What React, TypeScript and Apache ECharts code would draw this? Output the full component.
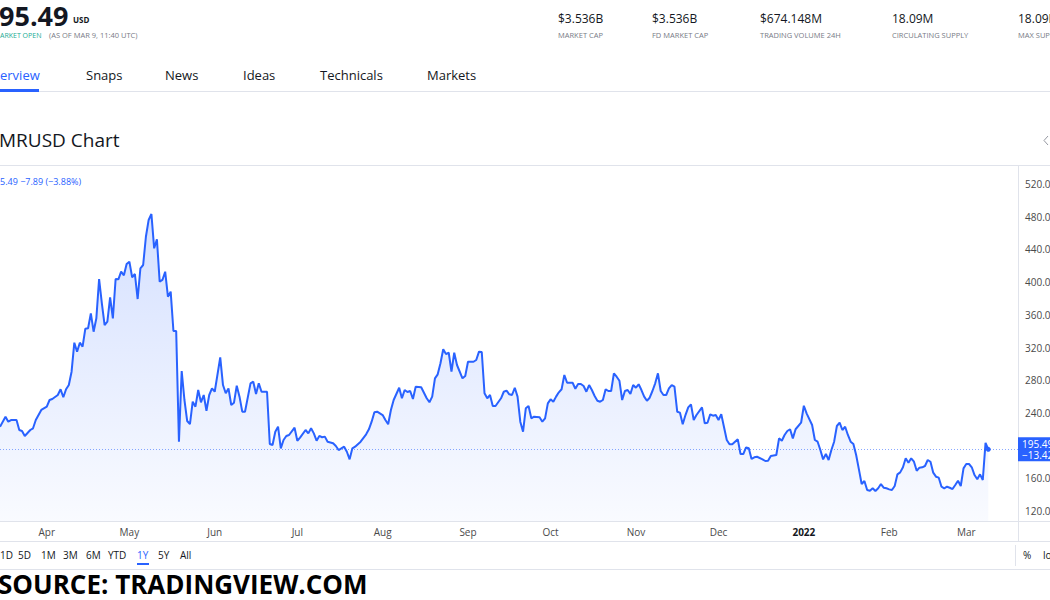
import React, { useEffect, useRef } from "react";
import * as echarts from "echarts";

// ---------- data ----------
const dates: string[] = [
  "2021-03-15","2021-03-17","2021-03-18","2021-03-19","2021-03-21","2021-03-22","2021-03-23","2021-03-24","2021-03-26","2021-03-27","2021-03-28","2021-03-30",
  "2021-04-01","2021-04-02","2021-04-03","2021-04-05","2021-04-06","2021-04-07","2021-04-08","2021-04-09","2021-04-10","2021-04-11","2021-04-12","2021-04-13","2021-04-14","2021-04-15","2021-04-16","2021-04-17","2021-04-18","2021-04-19","2021-04-20","2021-04-21","2021-04-22","2021-04-23","2021-04-24","2021-04-25","2021-04-26","2021-04-27","2021-04-28","2021-04-29","2021-04-30",
  "2021-05-01","2021-05-02","2021-05-03","2021-05-04","2021-05-05","2021-05-06","2021-05-07","2021-05-08","2021-05-09","2021-05-10","2021-05-11","2021-05-12","2021-05-13","2021-05-14","2021-05-15","2021-05-16","2021-05-17","2021-05-18","2021-05-19","2021-05-20","2021-05-21","2021-05-22","2021-05-23","2021-05-24","2021-05-25","2021-05-26","2021-05-27","2021-05-28","2021-05-29","2021-05-30","2021-05-31",
  "2021-06-01","2021-06-03","2021-06-04","2021-06-05","2021-06-06","2021-06-07","2021-06-08","2021-06-09","2021-06-10","2021-06-11","2021-06-12","2021-06-14","2021-06-15","2021-06-16","2021-06-17","2021-06-18","2021-06-20","2021-06-21","2021-06-22","2021-06-23","2021-06-24","2021-06-25","2021-06-26","2021-06-27","2021-06-28","2021-06-30",
  "2021-07-01","2021-07-02","2021-07-04","2021-07-05","2021-07-06","2021-07-07","2021-07-08","2021-07-09","2021-07-10","2021-07-11","2021-07-12","2021-07-14","2021-07-15","2021-07-16","2021-07-18","2021-07-19","2021-07-20","2021-07-21","2021-07-22","2021-07-24","2021-07-26","2021-07-27","2021-07-28","2021-07-29","2021-07-30",
  "2021-08-01","2021-08-02","2021-08-03","2021-08-04","2021-08-05","2021-08-07","2021-08-08","2021-08-09","2021-08-10","2021-08-11","2021-08-12","2021-08-13","2021-08-15","2021-08-17","2021-08-18","2021-08-19","2021-08-20","2021-08-21","2021-08-22","2021-08-23","2021-08-24","2021-08-25","2021-08-26","2021-08-27","2021-08-28","2021-08-30","2021-08-31",
  "2021-09-01","2021-09-03","2021-09-04","2021-09-05","2021-09-06","2021-09-07","2021-09-08","2021-09-09","2021-09-10","2021-09-11","2021-09-13","2021-09-14","2021-09-15","2021-09-16","2021-09-17","2021-09-18","2021-09-19","2021-09-20","2021-09-21","2021-09-22","2021-09-23","2021-09-24","2021-09-25","2021-09-27","2021-09-28","2021-09-29","2021-09-30",
  "2021-10-01","2021-10-02","2021-10-03","2021-10-04","2021-10-05","2021-10-06","2021-10-07","2021-10-09","2021-10-10","2021-10-11","2021-10-12","2021-10-13","2021-10-14","2021-10-15","2021-10-16","2021-10-17","2021-10-18","2021-10-19","2021-10-20","2021-10-21","2021-10-22","2021-10-23","2021-10-24","2021-10-25","2021-10-26","2021-10-27","2021-10-28","2021-10-29","2021-10-30","2021-10-31",
  "2021-11-01","2021-11-02","2021-11-03","2021-11-04","2021-11-05","2021-11-06","2021-11-07","2021-11-08","2021-11-09","2021-11-10","2021-11-11","2021-11-12","2021-11-13","2021-11-14","2021-11-15","2021-11-16","2021-11-17","2021-11-18","2021-11-19","2021-11-20","2021-11-21","2021-11-22","2021-11-23","2021-11-25","2021-11-26","2021-11-27","2021-11-28","2021-11-29","2021-11-30",
  "2021-12-01","2021-12-02","2021-12-04","2021-12-05","2021-12-06","2021-12-08","2021-12-09","2021-12-10","2021-12-11","2021-12-12","2021-12-13","2021-12-14","2021-12-15","2021-12-17","2021-12-18","2021-12-19","2021-12-20","2021-12-22","2021-12-23","2021-12-24","2021-12-25","2021-12-26","2021-12-27","2021-12-28","2021-12-29","2021-12-31",
  "2022-01-01","2022-01-02","2022-01-04","2022-01-05","2022-01-06","2022-01-07","2022-01-08","2022-01-09","2022-01-10","2022-01-11","2022-01-12","2022-01-13","2022-01-14","2022-01-15","2022-01-16","2022-01-17","2022-01-18","2022-01-19","2022-01-20","2022-01-21","2022-01-22","2022-01-23","2022-01-24","2022-01-25","2022-01-26","2022-01-27","2022-01-28","2022-01-29","2022-01-30","2022-01-31",
  "2022-02-01","2022-02-02","2022-02-03","2022-02-04","2022-02-05","2022-02-06","2022-02-07","2022-02-08","2022-02-09","2022-02-10","2022-02-11","2022-02-12","2022-02-13","2022-02-14","2022-02-15","2022-02-16","2022-02-17","2022-02-18","2022-02-19","2022-02-20","2022-02-21","2022-02-22","2022-02-23","2022-02-24","2022-02-25","2022-02-26","2022-02-27","2022-02-28",
  "2022-03-01","2022-03-02","2022-03-03","2022-03-04","2022-03-05","2022-03-06","2022-03-07","2022-03-08","2022-03-09",
];

const prices: number[] = [
  223.1,235.4,229.3,231.3,231.3,219.1,217.9,211.8,219.1,221.2,231.3,243.6,
  247.6,255.8,257.0,261.9,268.9,259.1,268.9,274.1,290.4,325.9,314.9,325.9,321.0,343.0,343.5,361.8,339.3,355.7,403.8,374.0,347.5,351.6,381.4,355.7,403.8,403.4,412.7,408.3,422.1,
  425.0,405.9,409.9,379.3,416.9,420.9,455.5,476.0,483.3,441.3,452.3,400.5,402.6,412.7,382.1,388.3,340.2,340.2,204.8,291.3,255.8,230.1,226.4,253.7,247.6,268.0,253.0,261.9,242.7,261.9,270.0,
  265.9,308.0,274.1,264.0,270.0,249.7,252.5,273.3,259.9,241.5,241.5,276.2,278.2,263.1,276.2,265.9,265.9,202.0,200.7,217.0,223.1,196.7,206.9,211.8,213.0,221.9,
  206.0,209.7,219.1,215.0,221.2,215.0,206.0,211.8,210.2,211.0,204.8,202.8,199.5,194.6,198.7,192.5,183.2,196.7,198.7,204.8,213.8,219.9,229.3,240.7,241.5,
  237.4,231.3,226.1,243.6,255.8,270.8,257.9,268.0,265.6,266.8,257.0,272.1,271.3,257.9,253.0,259.9,282.3,287.2,300.7,317.8,312.0,313.6,290.4,313.6,298.6,282.3,285.1,
  302.6,302.6,304.7,314.9,314.5,264.0,257.9,261.9,248.4,248.4,257.9,265.9,267.2,262.8,261.9,270.8,259.9,229.3,217.0,245.6,248.4,233.4,235.4,234.6,229.3,233.4,251.7,
  256.6,253.7,259.9,265.2,268.9,286.4,276.9,276.9,269.6,275.4,275.4,272.9,265.9,274.1,268.0,260.7,254.9,253.7,255.8,268.9,266.8,266.8,288.4,284.3,279.4,255.8,266.8,268.0,263.1,274.1,
  270.8,275.0,268.0,259.9,254.9,258.6,266.8,276.2,288.4,266.8,261.9,261.9,270.0,274.1,272.1,241.5,240.3,226.1,237.4,246.8,250.5,231.3,237.4,246.8,227.3,228.0,238.3,236.6,237.4,
  231.3,238.3,206.9,201.6,201.6,207.7,189.7,189.7,197.9,196.7,183.6,185.7,186.4,183.2,181.2,181.5,187.3,188.5,208.9,206.0,213.0,217.9,220.0,208.9,220.0,228.0,
  248.8,239.5,225.2,206.9,204.8,194.6,183.2,189.7,182.4,194.6,204.8,224.0,228.0,219.1,223.1,213.0,204.8,202.0,188.5,171.0,153.0,156.7,145.7,144.9,147.8,144.5,147.8,153.0,148.5,147.8,
  146.5,145.7,150.6,164.9,167.3,173.5,184.5,179.1,184.5,180.3,169.3,173.0,173.5,175.1,182.4,180.3,166.9,162.0,160.8,149.7,147.8,149.7,148.5,146.9,151.8,157.1,150.6,172.2,
  177.5,177.5,173.5,164.0,158.8,164.9,157.9,203.38,195.49,
];

// the 200.00 tick is hidden behind the last-price label in the reference
const yTicks = [120, 160, 240, 280, 320, 360, 400, 440, 480, 520];
const xTickDates = ["2021-04-01","2021-05-01","2021-06-01","2021-07-01","2021-08-01","2021-09-01","2021-10-01","2021-11-01","2021-12-01","2022-01-01","2022-02-01","2022-03-01"];
const xTickLabels = ["Apr","May","Jun","Jul","Aug","Sep","Oct","Nov","Dec","2022","Feb","Mar"];
const yearTickLabel = "2022";
const xAxisEnd = "2022-03-19T19:00:00";

const priceChangeLabel = "\u221213.42";
const legendText = "5.49 \u22127.89 (\u22123.88%)";
const statValues = ["$3.536B", "$3.536B", "$674.148M", "18.09M", "18.09M"];
const statNames = ["MARKET CAP", "FD MARKET CAP", "TRADING VOLUME 24H", "CIRCULATING SUPPLY", "MAX SUPPLY"];
const tabs = ["erview", "Snaps", "News", "Ideas", "Technicals", "Markets"];
const ranges = ["1D", "5D", "1M", "3M", "6M", "YTD", "1Y", "5Y", "All"];

// ---------- layout ----------
const FONT = '"Open Sans", "Noto Sans", sans-serif';
const statX = [558, 652, 760, 892, 1018];
const tabX = [0, 86, 165, 243, 320, 427];
const rangeX = [0, 18, 41, 63, 86, 108, 137, 158, 180];
const BLUE = "#2962ff";
const DARK = "#131722";
const GREY = "#787b86";
const BORDER = "#e0e3eb";

const toTime = (s: string) => new Date(s.length === 10 ? s + "T00:00:00" : s).getTime();

function txt(text: string, x: number, y: number, size: number, color: string, weight = "normal") {
  return {
    type: "text",
    x,
    y,
    silent: true,
    style: {
      text,
      fill: color,
      font: `${weight} ${size}px ${FONT}`,
      align: "left",
      verticalAlign: "middle",
    },
  };
}
function hline(y: number, x1: number, x2: number, color = BORDER) {
  return { type: "line", silent: true, shape: { x1, y1: y, x2, y2: y }, style: { stroke: color, lineWidth: 1 } };
}
function vline(x: number, y1: number, y2: number, color = BORDER) {
  return { type: "line", silent: true, shape: { x1: x, y1, x2: x, y2 }, style: { stroke: color, lineWidth: 1 } };
}

export default function App() {
  const ref = useRef<HTMLDivElement>(null);

  useEffect(() => {
    document.body.style.margin = "0";
    const chart = echarts.init(ref.current as HTMLDivElement, null, { renderer: "svg" });

    const tickTimes = xTickDates.map(toTime);
    const lastIdx = prices.length - 1;
    const seriesData = dates.map((d, i) => [toTime(d), prices[i]]);

    const graphics: any[] = [];
    // header
    graphics.push(txt("95.49", -1, 15, 27, DARK, "bold"));
    graphics.push(txt("USD", 73, 19, 8, DARK, "bold"));
    graphics.push(txt("ARKET OPEN", 0, 35, 7, "#22ab94"));
    graphics.push(txt("(AS OF MAR 9, 11:40 UTC)", 49, 35, 7.5, GREY));
    statValues.forEach((v, i) => {
      graphics.push(txt(v, statX[i], 18, 12, DARK));
      graphics.push(txt(statNames[i], statX[i], 35, 7.5, GREY));
    });
    // tabs
    tabs.forEach((t, i) => graphics.push(txt(t, tabX[i], 75, 13, i === 0 ? BLUE : DARK)));
    graphics.push(hline(91.5, 0, 1050));
    graphics.push({ type: "rect", silent: true, shape: { x: 0, y: 89, width: 39, height: 3 }, style: { fill: BLUE } });
    // title
    graphics.push(txt("MRUSD Chart", -1, 140, 19, DARK));
    graphics.push({
      type: "polyline",
      silent: true,
      shape: { points: [[1048, 136], [1044, 140.5], [1048, 145]] },
      style: { stroke: "#9598a1", lineWidth: 1, fill: null },
    });
    graphics.push(hline(165.5, 0, 1050));
    // legend
    graphics.push(txt(legendText, 0, 181, 9, BLUE));
    // pane borders
    graphics.push(hline(521.5, 0, 1050));
    graphics.push(hline(541.5, 0, 1050));
    graphics.push(vline(1018.5, 521, 541));
    // range bar
    ranges.forEach((r, i) => graphics.push(txt(r, rangeX[i], 555, 10, r === "1Y" ? BLUE : DARK)));
    graphics.push({ type: "rect", silent: true, shape: { x: 137, y: 563, width: 12, height: 2 }, style: { fill: BLUE } });
    graphics.push(vline(1015.5, 545, 566));
    graphics.push(txt("%", 1023, 555, 10, DARK));
    graphics.push(txt("log", 1043, 555, 10, DARK));
    graphics.push(hline(569.5, 0, 1050));
    // source
    graphics.push(txt("SOURCE: TRADINGVIEW.COM", -2, 584, 26, "#000000", "bold"));

    const option: any = {
      animation: false,
      backgroundColor: "#ffffff",
      textStyle: { fontFamily: FONT },
      grid: { left: 0, right: 32, top: 166, bottom: 79, outerBoundsMode: "none", containLabel: false },
      xAxis: {
        type: "value",
        min: toTime(dates[0]),
        max: toTime(xAxisEnd),
        axisLine: { show: false },
        axisTick: { show: false },
        splitLine: { show: false },
        axisLabel: {
          customValues: tickTimes,
          color: "#4a4a4a",
          fontSize: 10,
          fontFamily: FONT,
          margin: 6,
          hideOverlap: false,
          formatter: (val: number) => {
            let best = 0;
            tickTimes.forEach((t, i) => {
              if (Math.abs(t - val) < Math.abs(tickTimes[best] - val)) best = i;
            });
            const lab = xTickLabels[best];
            return lab === yearTickLabel ? `{y|${lab}}` : lab;
          },
          rich: { y: { fontWeight: "bold", color: DARK, fontSize: 10, fontFamily: FONT } },
        },
      },
      yAxis: {
        type: "value",
        position: "right",
        min: 107.8,
        max: 542,
        axisLine: { show: true, lineStyle: { color: BORDER } },
        axisTick: { show: false },
        splitLine: { show: false },
        axisLabel: {
          customValues: yTicks,
          formatter: (v: number) => v.toFixed(2),
          color: "#4a4a4a",
          fontSize: 10,
          fontFamily: FONT,
          margin: 7,
          hideOverlap: false,
        },
      },
      series: [
        {
          type: "line",
          data: seriesData,
          showSymbol: false,
          symbol: "none",
          lineStyle: { color: BLUE, width: 2 },
          areaStyle: {
            color: new echarts.graphic.LinearGradient(0, 0, 0, 1, [
              { offset: 0, color: "rgba(41,98,255,0.28)" },
              { offset: 1, color: "rgba(41,98,255,0.04)" },
            ]),
          },
          markLine: {
            silent: true,
            symbol: "none",
            lineStyle: { color: "rgba(41,98,255,0.55)", type: [1, 2], width: 1 },
            label: {
              position: "end",
              distance: 0,
              formatter: () => `${prices[lastIdx].toFixed(2)}\n${priceChangeLabel}`,
              backgroundColor: BLUE,
              color: "#ffffff",
              fontSize: 10,
              lineHeight: 11,
              fontFamily: FONT,
              padding: [1, 4, 1, 4],
              align: "left",
            },
            data: [{ yAxis: prices[lastIdx] }],
          },
          markPoint: {
            silent: true,
            symbol: "circle",
            symbolSize: 5,
            itemStyle: { color: BLUE },
            label: { show: false },
            data: [{ coord: seriesData[lastIdx] }],
          },
        },
      ],
      graphic: graphics,
    };

    chart.setOption(option);
    return () => chart.dispose();
  }, []);

  return <div ref={ref} style={{ width: 1050, height: 600 }} />;
}
